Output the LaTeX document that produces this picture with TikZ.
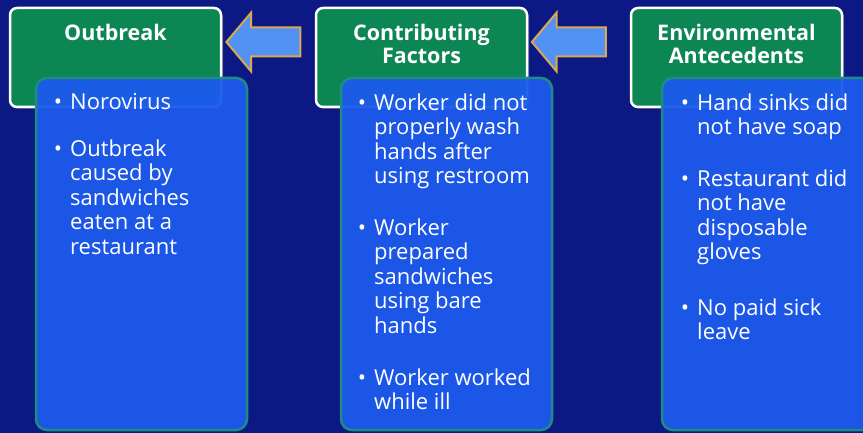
\documentclass[tikz,border=0pt]{standalone}
\usepackage{fontspec}
\setsansfont{Open Sans}
\usetikzlibrary{shapes.arrows,shadows,positioning}

\definecolor{navy}{RGB}{12,24,132}
\definecolor{hdgreen}{RGB}{12,134,82}
\definecolor{bodyblue}{RGB}{28,90,236}
\definecolor{bodyedge}{RGB}{30,140,128}
\definecolor{arrowblue}{RGB}{82,146,244}
\definecolor{arrowgold}{RGB}{218,168,78}

% first-line strut, so the node top sits 17pt above the first baseline
\newcommand{\topstrut}{\rule{0pt}{17pt}}
\newcommand{\bul}{\llap{\textbullet\hspace{8pt}}}

\begin{document}
\begin{tikzpicture}[x=1pt, y=-1pt,
    header/.style={draw=white, line width=2.5pt, fill=hdgreen, rounded corners=7pt,
        minimum width=211pt, minimum height=99pt,
        drop shadow={shadow xshift=2pt, shadow yshift=-2pt, opacity=0.5}},
    title/.style={text=white, font=\sffamily\bfseries\fontsize{21.5}{23}\selectfont,
        align=center, inner sep=0pt, anchor=north},
    panel/.style={draw=bodyedge, line width=2.5pt, fill=bodyblue, fill opacity=0.95,
        rounded corners=11pt, minimum width=211pt, minimum height=352pt},
    item/.style={text=white, font=\sffamily\fontsize{22}{24.5}\selectfont,
        align=left, inner sep=0pt, anchor=north west},
    blockarrow/.style={single arrow, shape border rotate=180, draw=arrowgold,
        line width=2pt, fill=arrowblue, minimum height=74pt, inner xsep=0pt,
        inner ysep=13.5pt, single arrow head extend=15pt, single arrow tip angle=100}
]
    % Background
    \fill[navy] (0,0) rectangle (863,433);
    \useasboundingbox (0,0) rectangle (863,433);

    % Header boxes
    \node[header] (hdOut) at (115.5,57.5) {};
    \node[header] (hdFac) at (421.5,57.5) {};
    \node[header] (hdEnv) at (736.5,57.5) {};

    % Header titles
    \node[title] (ttlOut) at (115.5,23) {\topstrut Outbreak};
    \node[title] (ttlFac) at (421.5,23) {\topstrut Contributing\\Factors};
    \node[title] (ttlEnv) at (736.5,23) {\topstrut Environmental\\Antecedents};

    % Arrows between headers
    \node[blockarrow] (arrFac) at (269.5,42) {};
    \node[blockarrow] (arrEnv) at (575,42) {};

    % Body panels
    \node[panel] (pnOut) at (141.5,254) {};
    \node[panel] (pnFac) at (446.5,254) {};
    \node[panel] (pnEnv) at (767.5,254) {};

    % Outbreak items
    \node[item] (itOut1) at (70,92) {\topstrut\bul Norovirus};
    \node[item] (itOut2) at (70,139) {\topstrut\bul Outbreak\\caused by\\sandwiches\\eaten at a\\restaurant};

    % Contributing factor items
    \node[item] (itFac1) at (374,93) {\topstrut\bul Worker did not\\properly wash\\hands after\\using restroom};
    \node[item] (itFac2) at (374,218) {\topstrut\bul Worker\\prepared\\sandwiches\\using bare\\hands};
    \node[item] (itFac3) at (374,368) {\topstrut\bul Worker worked\\while ill};

    % Environmental antecedent items
    \node[item] (itEnv1) at (697,93) {\topstrut\bul Hand sinks did\\not have soap};
    \node[item] (itEnv2) at (697,169) {\topstrut\bul Restaurant did\\not have\\disposable\\gloves};
    \node[item] (itEnv3) at (697,298) {\topstrut\bul No paid sick\\leave};
\end{tikzpicture}
\end{document}
